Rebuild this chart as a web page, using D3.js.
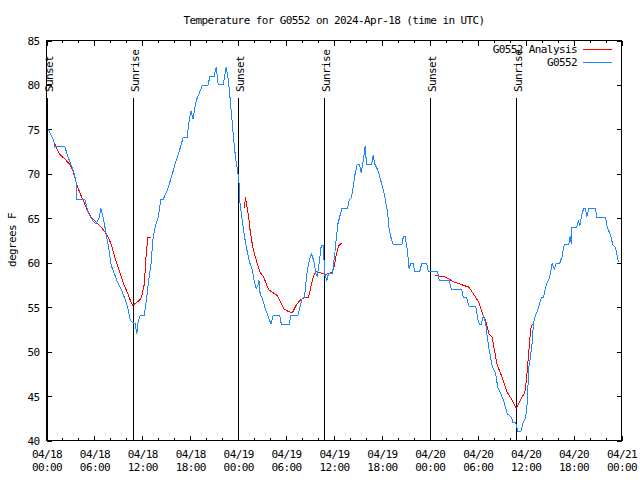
<!DOCTYPE html>
<html><head><meta charset="utf-8">
<script src="https://cdn.jsdelivr.net/npm/d3@7"></script>
<style>
body{margin:0;background:#fff;}
text{font-family:"DejaVu Sans Mono",monospace;font-size:11px;letter-spacing:-0.6px;fill:#000;}
</style></head>
<body><svg id="c" width="640" height="480"></svg>
<script>
const titleText = "Temperature for G0552 on 2024-Apr-18 (time in UTC)";
const yLabel = "degrees F";
const yTicks = [40,45,50,55,60,65,70,75,80,85];
const seriesNames = ["G0552 Analysis","G0552"];
const eventLabels = ["Sunset","Sunrise","Sunset","Sunrise","Sunset","Sunrise"];
const eventHours = [0.06,10.87,24.02,34.79,48.06,58.83];

const obsHours = [0.15,0.6,0.9,1.05,1.3,2.3,2.6,3.0,3.5,3.7,3.75,3.8,4.8,5.1,5.4,5.9,6.2,6.6,6.8,7.1,7.5,7.8,8.1,8.5,8.9,9.4,9.75,10.1,10.5,10.9,11.1,11.3,11.5,11.75,12.25,12.5,12.8,13.1,13.3,13.6,14.0,14.3,14.6,15.1,15.7,16.1,16.7,17.1,17.6,17.8,18.1,18.35,18.75,19.0,19.5,20.3,20.4,21.0,21.25,21.5,22.1,22.4,22.5,22.75,23.0,23.25,23.5,23.75,23.95,24.1,24.2,24.25,24.5,24.8,25.1,25.4,25.75,26.0,26.25,26.45,26.6,26.75,27.1,27.4,27.7,28.1,28.4,29.2,29.4,30.4,30.6,31.5,31.75,32.0,32.3,32.6,32.9,33.2,33.5,33.7,33.9,34.1,34.4,34.7,34.8,35.1,35.3,35.8,36.1,36.3,36.5,36.75,37.0,37.7,37.9,38.2,38.4,38.6,38.9,39.2,39.4,39.7,39.9,40.0,40.1,40.7,40.9,41.1,41.5,41.8,42.1,42.4,42.7,42.9,43.1,43.4,44.5,44.7,44.9,45.2,45.4,45.6,45.9,46.1,46.75,47.0,47.6,47.8,48.96,49.2,50.4,50.7,52.0,52.2,52.6,52.9,53.75,54.0,54.2,54.45,54.7,55.0,55.2,55.4,55.6,55.8,56.25,56.5,56.9,57.3,57.7,58.25,58.4,58.75,59.0,59.4,59.7,60.0,60.2,60.3,60.4,60.6,60.8,60.9,61.0,61.25,61.5,61.75,61.95,62.25,62.4,62.7,62.9,63.1,63.3,63.6,63.8,64.25,64.6,64.75,64.9,65.4,65.5,65.6,65.7,65.8,66.4,66.6,66.8,67.0,67.25,67.5,67.65,67.9,68.75,68.9,70.0,70.2,70.4,70.7,70.9,71.25,71.4,71.6,71.75];
const obsTemps = [75.1,74.3,73.75,73.0,73.1,73.1,72.1,71.2,70.0,69.1,68.1,67.1,67.1,66.1,65.3,64.6,64.4,65.1,66.1,65.1,63.1,61.6,59.7,58.75,57.8,56.9,56.1,55.2,53.5,53.2,53.2,52.0,53.5,54.1,54.1,55.75,58.0,59.9,62.5,64.0,65.1,67.1,67.1,68.1,69.8,71.1,72.8,74.05,74.05,75.6,77.1,76.2,78.25,78.8,79.9,80.0,81.0,81.0,82.0,80.0,80.0,81.4,82.0,80.7,78.4,75.8,73.2,71.3,70.2,69.1,67.0,66.6,64.75,62.9,61.4,60.1,59.3,58.0,57.05,57.4,58.0,56.5,55.75,54.8,54.1,53.1,54.1,54.1,53.1,53.1,54.1,54.1,55.0,55.95,56.1,58.75,60.25,61.0,60.1,58.9,58.4,59.7,61.9,61.9,58.75,58.0,58.75,58.75,61.0,62.9,64.4,65.3,66.1,66.1,67.0,67.4,68.5,69.8,71.05,71.05,70.1,71.7,73.1,71.9,71.05,71.05,72.1,71.1,70.4,69.4,68.5,67.2,65.7,63.8,62.95,62.05,62.05,63.0,63.0,61.4,59.3,59.95,59.95,59.05,59.05,59.95,59.95,59.05,59.0,58.0,58.0,56.95,56.95,56.1,56.1,55.1,55.1,53.7,53.05,53.05,54.1,53.1,51.6,50.3,49.4,48.4,47.5,46.0,45.25,44.3,43.0,42.6,42.05,42.05,41.05,41.05,42.05,42.6,44.3,46.4,48.25,49.4,50.9,52.2,53.3,54.1,54.6,55.4,56.05,56.05,56.9,57.8,58.1,58.75,59.9,59.3,59.9,59.9,60.8,61.75,62.05,62.05,62.7,62.95,62.1,64.0,64.0,64.7,64.2,65.3,66.1,66.1,65.1,66.1,66.1,65.05,65.05,64.1,63.6,62.9,62.0,61.75,61.0,60.1,60.05];

const anaHours = [1.0,1.6,2.25,2.9,3.3,3.6,3.9,4.3,4.7,5.0,5.6,6.2,6.75,7.2,7.7,8.1,8.5,8.8,9.25,9.75,10.2,10.5,10.8,11.8,12.0,12.25,12.5,12.7,13.1,null,24.8,24.9,25.05,25.3,25.5,25.8,26.1,26.4,26.75,27.2,27.6,27.9,28.4,28.9,29.3,29.75,30.3,30.8,31.25,31.7,32.25,32.8,33.1,33.4,33.75,34.2,34.7,35.0,35.3,35.8,36.1,36.3,36.6,36.9,null,48.6,49.25,49.9,50.5,51.1,51.75,52.4,52.9,53.3,53.75,54.2,54.6,55.0,55.4,55.8,56.1,56.4,56.75,57.2,57.7,58.2,58.8,59.3,59.9,60.1,60.3,60.5,60.7,60.9];
const anaTemps = [73.45,72.25,71.7,71.1,70.4,69.4,68.5,67.6,66.8,66.1,65.1,64.6,64.1,63.6,62.9,62.1,60.8,59.9,58.75,57.4,56.5,55.75,55.2,55.9,56.5,57.6,61.2,62.8,62.8,null,66.1,67.4,66.6,65.3,63.6,61.9,60.8,59.9,58.9,58.4,57.4,56.9,56.6,56.3,55.6,54.8,54.5,54.4,55.2,55.75,56.05,56.1,57.25,58.4,59.05,58.9,58.75,58.7,58.8,58.9,59.9,61.0,61.9,62.2,null,58.6,58.45,58.4,58.1,57.8,57.6,57.4,57.25,56.7,56.1,55.4,54.25,53.5,52.0,51.6,50.1,48.6,47.8,46.75,45.4,44.7,43.6,44.5,45.4,46.9,49.0,51.25,52.9,53.1];

const base = Date.UTC(2024,3,18,0,0,0);
const toDate = h => new Date(base + h*3600e3);
const L = 46.5, R = 621.5, T = 40.5, B = 440.5;
const svg = d3.select("#c");
const x = d3.scaleUtc().domain([toDate(0), toDate(72)]).range([L, R]);
const y = d3.scaleLinear().domain([40, 85]).range([B, T]);

svg.append("text").attr("x", 334).attr("y", 24).attr("text-anchor","middle").text(titleText);
svg.append("text").attr("transform","translate(15.5,240) rotate(-90)").attr("text-anchor","middle").text(yLabel);

const majorT = d3.range(0, 73, 6).map(toDate);
const minorT = d3.range(0, 73, 2).map(toDate);

function styleAxis(g){ g.select(".domain").remove(); g.selectAll("line").attr("stroke","#000").attr("shape-rendering","crispEdges"); }

const gb = svg.append("g").attr("transform",`translate(0,${B})`)
  .call(d3.axisBottom(x).tickValues(majorT).tickSize(-5).tickSizeOuter(0).tickPadding(9).tickFormat(d3.utcFormat("%m/%d")))
  .call(styleAxis);
gb.selectAll("text").each(function(d){
  const t = d3.select(this); t.text(null).attr("y", 17).attr("dy", null);
  t.append("tspan").attr("x",0).attr("y",17).text(d3.utcFormat("%m/%d")(d));
  t.append("tspan").attr("x",0).attr("y",30).text(d3.utcFormat("%H:%M")(d));
});
gb.selectAll("text").attr("font-family",null).attr("font-size",null);
svg.append("g").attr("transform",`translate(0,${B})`)
  .call(d3.axisBottom(x).tickValues(minorT).tickSize(-2.5).tickSizeOuter(0).tickFormat(""))
  .call(styleAxis);
svg.append("g").attr("transform",`translate(0,${T})`)
  .call(d3.axisTop(x).tickValues(majorT).tickSize(-5).tickSizeOuter(0).tickFormat(""))
  .call(styleAxis);
svg.append("g").attr("transform",`translate(0,${T})`)
  .call(d3.axisTop(x).tickValues(minorT).tickSize(-2.5).tickSizeOuter(0).tickFormat(""))
  .call(styleAxis);
const gl = svg.append("g").attr("transform",`translate(${L},0)`)
  .call(d3.axisLeft(y).tickValues(yTicks).tickSize(-5).tickSizeOuter(0).tickPadding(7).tickFormat(d3.format("d")))
  .call(styleAxis);
gl.selectAll("text").attr("font-family",null).attr("font-size",null).attr("dy","0.36em");
svg.append("g").attr("transform",`translate(${R},0)`)
  .call(d3.axisRight(y).tickValues(yTicks).tickSize(-5).tickSizeOuter(0).tickFormat(""))
  .call(styleAxis);

svg.append("rect").attr("x",L).attr("y",T).attr("width",R-L).attr("height",B-T)
  .attr("fill","none").attr("stroke","#000").attr("shape-rendering","crispEdges");

eventHours.forEach((h,i)=>{
  const xx = Math.round(x(toDate(h))) + 0.5;
  svg.append("line").attr("x1",xx).attr("x2",xx).attr("y1",98).attr("y2",B)
    .attr("stroke","#000").attr("stroke-width",1).attr("shape-rendering","crispEdges");
  svg.append("text").attr("transform",`translate(${xx+5.5},92) rotate(-90)`).attr("text-anchor","start").text(eventLabels[i]);
});

const obs = obsHours.map((h,i)=>({t:toDate(h), v:obsTemps[i]}));
const ana = anaHours.map((h,i)=>({t: h==null?null:toDate(h), v:anaTemps[i]}));
const line = d3.line().defined(d=>d.t!=null && d.v!=null).x(d=>x(d.t)).y(d=>y(d.v));
svg.append("path").datum(ana).attr("d",line).attr("fill","none").attr("stroke","#ff0000").attr("stroke-width",1).attr("shape-rendering","crispEdges");
svg.append("path").datum(obs).attr("d",line).attr("fill","none").attr("stroke","#1e88ff").attr("stroke-width",1).attr("shape-rendering","crispEdges");

const legColors = ["#ff0000","#1e88ff"];
seriesNames.forEach((n,i)=>{
  const ly = 49 + i*13;
  svg.append("text").attr("x",577).attr("y",ly).attr("dy","0.36em").attr("text-anchor","end").text(n);
  svg.append("line").attr("x1",583).attr("x2",612).attr("y1",ly+0.5).attr("y2",ly+0.5)
    .attr("stroke",legColors[i]).attr("stroke-width",1).attr("shape-rendering","crispEdges");
});
</script></body></html>
